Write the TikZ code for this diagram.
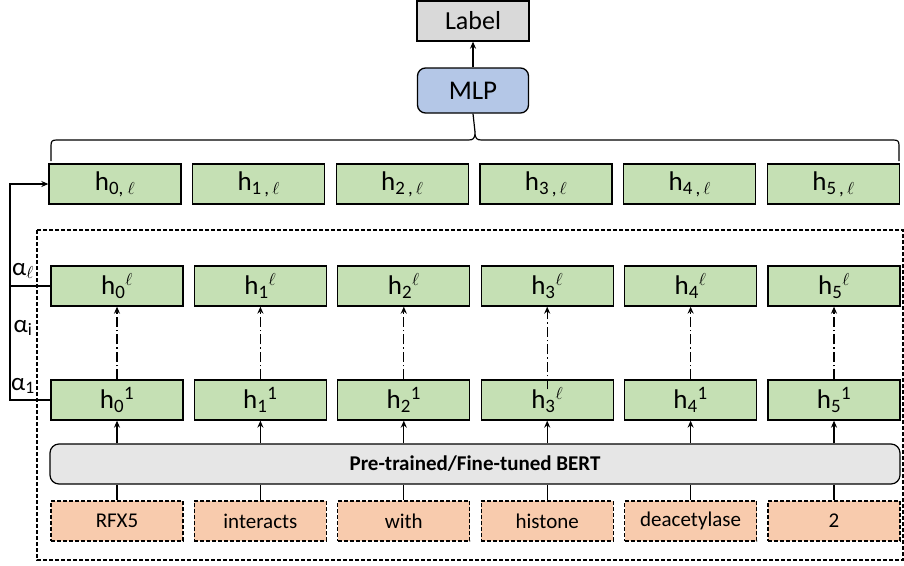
\documentclass[tikz,border=0pt]{standalone}
\usepackage{fontspec}
\setmainfont{Carlito}
\usetikzlibrary{arrows.meta}

\definecolor{hgreen}{HTML}{C5E0B4}
\definecolor{tokorange}{HTML}{F8CBAD}
\definecolor{mlpblue}{HTML}{B4C7E7}
\definecolor{labgray}{HTML}{D9D9D9}
\definecolor{bertgray}{HTML}{E6E6E6}

\tikzset{
  shortdash/.style={dash pattern=on 4pt off 2pt},
  hbox/.style={draw, line width=1.3pt, fill=hgreen, minimum width=132pt, minimum height=40pt,
    inner sep=0pt, font=\fontsize{27}{29}\selectfont},
  tokbox/.style={draw, shortdash, line width=1.2pt, fill=tokorange, minimum width=132pt, minimum height=40pt,
    inner sep=0pt, font=\fontsize{21}{23}\selectfont},
  arr/.style={line width=1.2pt, -{Stealth[length=7pt,width=6pt]}},
  plain/.style={line width=1.2pt},
  dashdot/.style={line width=1.2pt, dash pattern=on 10pt off 3pt on 1.5pt off 3pt, -{Stealth[length=7pt,width=6pt]}},
  alab/.style={inner sep=0pt, font=\fontsize{25}{27}\selectfont}
}

\begin{document}
\begin{tikzpicture}[x=1pt, y=-1pt]
\useasboundingbox (0,0) rectangle (904,565);

% output head
\node[draw, line width=1.3pt, fill=labgray, minimum width=112pt, minimum height=40pt, inner sep=0pt,
  font=\fontsize{26}{28}\selectfont] (label) at (473,21) {Label};
\node[draw, line width=1.3pt, fill=mlpblue, rounded corners=8pt, minimum width=111pt, minimum height=45pt,
  inner sep=0pt, font=\fontsize{27}{29}\selectfont] (mlp) at (473,90.5) {MLP};
\draw[arr] (mlp) -- (label);

% encoder frame
\draw[line width=1.2pt, shortdash] (37,230) rectangle (903,560);

% BERT block
\node[draw, line width=1.2pt, fill=bertgray, rounded corners=9pt, minimum width=850pt, minimum height=40pt,
  inner sep=0pt, font=\bfseries\fontsize{21}{23}\selectfont] (bert) at (475,464) {Pre-trained/Fine-tuned BERT};

% tokens
\foreach \i/\w in {0/RFX5,1/interacts,2/with,3/histone,4/deacetylase,5/2} {
  \node[tokbox] (t\i) at (117+143.4*\i,521) {\w};
  \draw[plain] (t\i.north) -- (bert.south -| t\i);
}

% first-layer states
\foreach \i in {0,1,2,4,5} {
  \node[hbox] (b\i) at (117+143.4*\i,400) {h\textsubscript{\i}\textsuperscript{1}};
}
\node[hbox] (b3) at (117+143.4*3,400) {h\textsubscript{3}\textsuperscript{$\ell$}};

% last-layer states
\foreach \i in {0,...,5} {
  \node[hbox] (m\i) at (117+143.4*\i,286) {h\textsubscript{\i}\textsuperscript{$\ell$}};
}

% BERT to first layer, first layer to last layer
\foreach \i in {0,1,2,4,5} {
  \draw[arr] (bert.north -| b\i) -- (b\i);
  \draw[dashdot] (b\i) -- (m\i);
}
\draw[arr] (bert.north -| b3) -- (b3);
\draw[dashdot] ([yshift=-10pt]b3.north) -- (m3);

% pooled states
\node[hbox] (p0) at (115,184) {h\textsubscript{0, $\ell$}};
\foreach \i in {1,...,5} {
  \node[hbox] (p\i) at (115+143.7*\i,184) {h\textsubscript{\i\,,\,$\ell$}};
}

% brace gathering the pooled states
\coordinate (bl) at (51,161);
\coordinate (br) at (899,161);
\coordinate (tip) at (475,132);
\draw[line width=1.2pt, line join=round]
  (bl) -- (51,146) .. controls (51,141) and (52,140) .. (57,140)
  -- (468,140) .. controls (473,140) and (475,139) .. (tip)
  .. controls (475,139) and (477,140) .. (482,140)
  -- (893,140) .. controls (898,140) and (899,141) .. (899,146) -- (br);
\draw[plain] (tip) -- (mlp.south);

% weighted sum of layers
\coordinate (rail) at (10,0);
\draw[arr] (b0.west) -- (b0.west -| rail) |- (p0.west);
\draw[plain] (m0.west) -- (m0.west -| rail);
\node[alab] (a1) at (23,386) {α\textsubscript{1}};
\node[alab] (ai) at (23,328) {α\textsubscript{i}};
\node[alab] (al) at (23,271) {α\textsubscript{$\ell$}};
\end{tikzpicture}
\end{document}
